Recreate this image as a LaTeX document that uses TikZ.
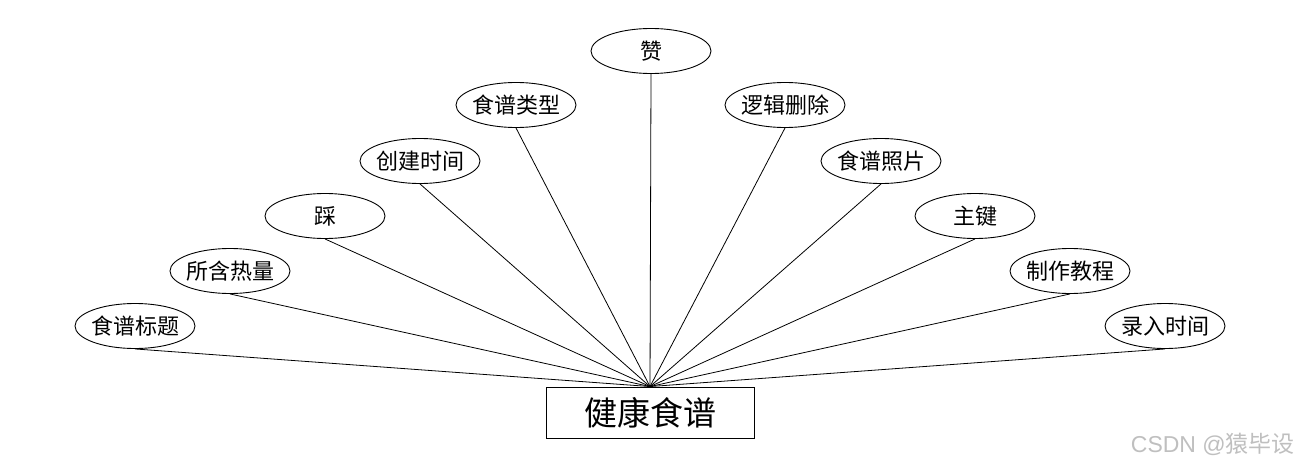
\documentclass[tikz,border=0pt]{standalone}
\usepackage{fontspec}
\setmainfont{Liberation Sans}
\newfontfamily\cjk{Noto Sans CJK SC}
\usetikzlibrary{shapes.geometric}
\begin{document}
\begin{tikzpicture}[x=1pt,y=-1pt,
  attr/.style={draw,line width=0.9pt,ellipse,minimum width=120pt,minimum height=45pt,inner xsep=-3pt,inner ysep=0pt,font=\cjk\fontsize{22}{22}\selectfont},
  ent/.style={draw,line width=0.9pt,rectangle,minimum width=208pt,minimum height=51pt,inner sep=0pt,font=\cjk\fontsize{33}{33}\selectfont},
  link/.style={line width=0.8pt}]
\useasboundingbox (0,0) rectangle (1300,468);
\node[ent] (e) at (650,412.5) {健康食谱};
\node[attr] (a1) at (135,326) {食谱标题};
\node[attr] (a2) at (230,271) {所含热量};
\node[attr] (a3) at (325,216) {踩};
\node[attr] (a4) at (420,161) {创建时间};
\node[attr] (a5) at (516,105) {食谱类型};
\node[attr] (a6) at (651,51) {赞};
\node[attr] (a7) at (785,105) {逻辑删除};
\node[attr] (a8) at (881,161) {食谱照片};
\node[attr] (a9) at (975,216) {主键};
\node[attr] (a10) at (1070,271) {制作教程};
\node[attr] (a11) at (1165,326) {录入时间};
\foreach \i in {1,...,11} \draw[link] (a\i.south) -- (e.north);
\node[font=\fontsize{23}{23}\selectfont,text=black!25,anchor=east,inner sep=0pt] (wm) at (1295,444) {CSDN @{\cjk 猿毕设}};
\end{tikzpicture}
\end{document}
